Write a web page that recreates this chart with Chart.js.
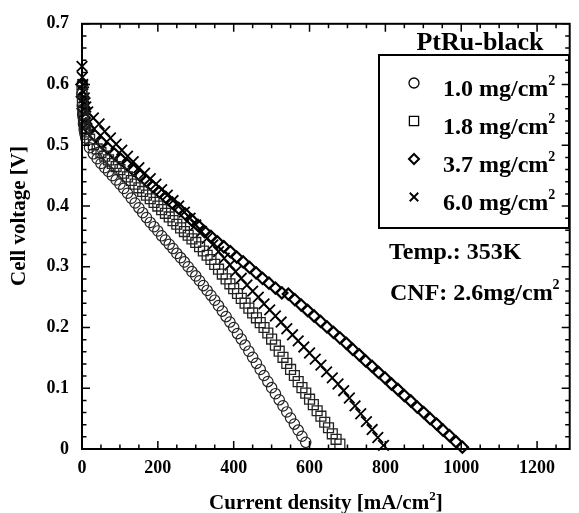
<!DOCTYPE html>
<html><head><meta charset="utf-8">
<script src="https://cdn.jsdelivr.net/npm/chart.js@4.4.0/dist/chart.umd.min.js"></script>
<style>html,body{margin:0;padding:0;background:#fff}#wrap{width:579px;height:513px}</style>
</head><body><div id="wrap"><canvas id="c" width="579" height="513"></canvas></div>
<script>
// ---- data (current density mA/cm2, cell voltage V) ----
const seriesLabels = ['1.0 mg/cm', '1.8 mg/cm', '3.7 mg/cm', '6.0 mg/cm'];

const i10 = [0,1,2,4,6,8,10,20,30,40,50,60,70,80,90,100,110,120,130,140,150,160,170,180,190,200,210,220,230,240,250,260,270,280,290,300,310,320,330,340,350,360,370,380,390,400,410,420,430,440,450,460,470,480,490,500,510,520,530,540,550,560,570,580,590];
const v10 = [0.585,0.565,0.550,0.535,0.525,0.518,0.512,0.496,0.486,0.478,0.470,0.463,0.457,0.450,0.443,0.436,0.429,0.421,0.413,0.405,0.397,0.389,0.381,0.373,0.366,0.359,0.351,0.344,0.337,0.330,0.322,0.315,0.308,0.300,0.292,0.285,0.277,0.269,0.261,0.253,0.245,0.236,0.227,0.218,0.209,0.200,0.190,0.181,0.171,0.161,0.151,0.141,0.131,0.121,0.111,0.101,0.091,0.081,0.071,0.061,0.051,0.041,0.031,0.021,0.011];

const i18 = [0,1,2,4,6,8,10,20,30,40,50,60,70,80,90,100,110,120,130,140,150,160,170,180,190,200,210,220,230,240,250,260,270,280,290,300,310,320,330,340,350,360,370,380,390,400,410,420,430,440,450,460,470,480,490,500,510,520,530,540,550,560,570,580,590,600,610,620,630,640,650,660,670,680];
const v18 = [0.590,0.572,0.558,0.545,0.535,0.528,0.522,0.510,0.501,0.494,0.488,0.482,0.476,0.470,0.465,0.460,0.454,0.448,0.442,0.436,0.430,0.424,0.418,0.412,0.406,0.400,0.394,0.388,0.382,0.376,0.370,0.364,0.358,0.352,0.346,0.340,0.333,0.326,0.319,0.312,0.304,0.296,0.288,0.280,0.272,0.264,0.256,0.248,0.240,0.232,0.224,0.216,0.208,0.200,0.191,0.181,0.171,0.161,0.151,0.141,0.131,0.121,0.111,0.101,0.092,0.082,0.073,0.063,0.054,0.044,0.035,0.025,0.016,0.008];

const i37 = [0,1,3,6,10,17,34,51,68,85,102,119,136,153,170,187,204,221,238,255,272,289,306,323,340,357,374,391,408,425,442,459,476,493,510,527,544,561,578,595,612,629,646,663,680,697,714,731,748,765,782,799,816,833,850,867,884,901,918,935,952,969,986,1003];
const v37 = [0.600,0.580,0.560,0.545,0.535,0.528,0.516,0.505,0.495,0.486,0.477,0.468,0.459,0.450,0.441,0.432,0.423,0.414,0.405,0.396,0.387,0.377,0.368,0.358,0.350,0.341,0.333,0.325,0.316,0.308,0.299,0.290,0.281,0.273,0.265,0.257,0.255,0.246,0.237,0.228,0.219,0.210,0.201,0.192,0.183,0.174,0.164,0.155,0.145,0.136,0.126,0.117,0.107,0.098,0.088,0.079,0.069,0.060,0.050,0.041,0.031,0.022,0.012,0.003];

const i60 = [0,1,2,4,6,8,10,15,30,45,60,75,90,105,120,135,150,165,180,195,210,225,240,255,270,285,300,315,330,345,360,375,390,405,420,435,450,465,480,495,510,525,540,555,570,585,600,615,630,645,660,675,690,705,720,735,750,765,780,795];
const v60 = [0.630,0.612,0.600,0.588,0.578,0.570,0.563,0.555,0.545,0.535,0.523,0.512,0.502,0.492,0.482,0.473,0.463,0.454,0.445,0.436,0.427,0.418,0.409,0.400,0.390,0.380,0.369,0.358,0.347,0.336,0.325,0.314,0.303,0.292,0.281,0.270,0.260,0.250,0.239,0.229,0.219,0.209,0.198,0.188,0.178,0.168,0.158,0.148,0.138,0.127,0.117,0.107,0.096,0.084,0.071,0.058,0.045,0.032,0.019,0.006];

// ---- axis ticks ----
const xTickValues = [0,200,400,600,800,1000,1200];
const xMinorValues = [0,50,100,150,200,250,300,350,400,450,500,550,600,650,700,750,800,850,900,950,1000,1050,1100,1150,1200,1250];
const yTickValues = [0,0.1,0.2,0.3,0.4,0.5,0.6,0.7];
const yMinorValues = [0,0.02,0.04,0.06,0.08,0.1,0.12,0.14,0.16,0.18,0.2,0.22,0.24,0.26,0.28,0.3,0.32,0.34,0.36,0.38,0.4,0.42,0.44,0.46,0.48,0.5,0.52,0.54,0.56,0.58,0.6,0.62,0.64,0.66,0.68,0.7];

const FONT = "'Liberation Serif','Times New Roman',serif";
Chart.defaults.font.family = FONT;
Chart.defaults.font.weight = 'bold';
Chart.defaults.color = '#000';

const pts = (xs, ys) => xs.map((x, k) => ({x, y: ys[k]}));

const styles = [
  {pointStyle:'circle',  radius:5.2, bw:1.2, color:'#222', lr:5,   lbw:1.3},
  {pointStyle:'rect',    radius:7.0, bw:1.3, color:'#222', lr:6.5, lbw:1.3},
  {pointStyle:'rectRot', radius:5.6, bw:2.2, color:'#000', lr:5,   lbw:2.0},
  {pointStyle:'crossRot',radius:7.5, bw:1.8, color:'#000', lr:6,   lbw:1.8}
];
const seriesData = [pts(i10,v10), pts(i18,v18), pts(i37,v37), pts(i60,v60)];

function richText(ctx, parts, x, y, align) {
  let total = 0;
  parts.forEach(p => { ctx.font = 'bold ' + p.size + 'px ' + FONT; p.w = ctx.measureText(p.t).width; total += p.w; });
  let cx = align === 'center' ? x - total / 2 : (align === 'right' ? x - total : x);
  ctx.textAlign = 'left'; ctx.textBaseline = 'alphabetic';
  parts.forEach(p => { ctx.font = 'bold ' + p.size + 'px ' + FONT; ctx.fillText(p.t, cx, y + (p.dy || 0)); cx += p.w; });
}

const decor = {
  id: 'decor',
  afterDraw(chart) {
    const {ctx, chartArea: a, scales: {x, y}} = chart;
    ctx.save();
    ctx.strokeStyle = '#000'; ctx.fillStyle = '#000';
    ctx.lineWidth = 2;
    ctx.strokeRect(a.left, a.top, a.right - a.left, a.bottom - a.top);
    ctx.lineWidth = 1.5;
    ctx.beginPath();
    xMinorValues.forEach(v => {
      const px = x.getPixelForValue(v);
      const L = xTickValues.includes(v) ? 8 : 4.5;
      ctx.moveTo(px, a.bottom); ctx.lineTo(px, a.bottom - L);
      ctx.moveTo(px, a.top); ctx.lineTo(px, a.top + L);
    });
    yMinorValues.forEach((v, k) => {
      const py = y.getPixelForValue(v);
      const L = (k % 5 === 0) ? 8 : 4.5;
      ctx.moveTo(a.left, py); ctx.lineTo(a.left + L, py);
      ctx.moveTo(a.right, py); ctx.lineTo(a.right - L, py);
    });
    ctx.stroke();

    // axis titles
    richText(ctx, [{t:'Current density [mA/cm', size:21}, {t:'2', size:13, dy:-9}, {t:']', size:21}], (a.left + a.right) / 2, 509, 'center');
    ctx.save();
    ctx.translate(25, 216);
    ctx.rotate(-Math.PI / 2);
    richText(ctx, [{t:'Cell voltage [V]', size:21}], 0, 0, 'center');
    ctx.restore();

    // legend
    richText(ctx, [{t:'PtRu-black', size:26}], 480, 50, 'center');
    ctx.lineWidth = 2;
    ctx.strokeRect(379, 55, 190, 173);
    const baselines = [96, 134, 172, 210];
    seriesLabels.forEach((lab, k) => {
      const st = styles[k];
      ctx.save();
      ctx.strokeStyle = '#000';
      ctx.fillStyle = 'rgba(0,0,0,0)';
      ctx.lineWidth = st.lbw;
      ctx.beginPath();
      Chart.helpers.drawPoint(ctx, {pointStyle: st.pointStyle, radius: st.lr, borderWidth: st.lbw, rotation: 0}, 414, baselines[k] - 13);
      ctx.restore();
      ctx.fillStyle = '#000';
      richText(ctx, [{t: lab, size:24}, {t:'2', size:14, dy:-11}], 443, baselines[k], 'left');
    });

    // annotations
    richText(ctx, [{t:'Temp.: 353K', size:24}], 389, 259, 'left');
    richText(ctx, [{t:'CNF: 2.6mg/cm', size:24}, {t:'2', size:14, dy:-11}], 390, 300, 'left');
    ctx.restore();
  }
};

new Chart(document.getElementById('c'), {
  type: 'scatter',
  data: {
    datasets: seriesData.map((d, k) => ({
      label: seriesLabels[k] + '2',
      data: d,
      showLine: false,
      pointStyle: styles[k].pointStyle,
      pointRadius: styles[k].radius,
      pointBorderWidth: styles[k].bw,
      borderColor: styles[k].color,
      backgroundColor: 'rgba(0,0,0,0)',
      pointBackgroundColor: 'rgba(0,0,0,0)',
      clip: false
    }))
  },
  options: {
    responsive: false,
    animation: false,
    events: [],
    layout: {padding: {top: 20, right: 2, left: 0, bottom: 0}},
    plugins: {legend: {display: false}, tooltip: {enabled: false}},
    scales: {
      x: {
        type: 'linear', min: 0, max: 1286,
        afterBuildTicks: s => { s.ticks = xTickValues.map(v => ({value: v})); },
        afterFit: s => { s.height = 64; },
        grid: {display: false, drawTicks: false},
        border: {display: false},
        ticks: {font: {size: 18, weight: 'bold'}, color: '#000', padding: 9, maxRotation: 0, callback: v => String(v)}
      },
      y: {
        type: 'linear', min: 0, max: 0.7,
        afterBuildTicks: s => { s.ticks = yTickValues.map(v => ({value: v})); },
        afterFit: s => { s.width = 82; },
        grid: {display: false, drawTicks: false},
        border: {display: false},
        ticks: {font: {size: 18, weight: 'bold'}, color: '#000', padding: 13, callback: v => v === 0 ? '0' : v.toFixed(1)}
      }
    }
  },
  plugins: [decor]
});
</script>
</body></html>
